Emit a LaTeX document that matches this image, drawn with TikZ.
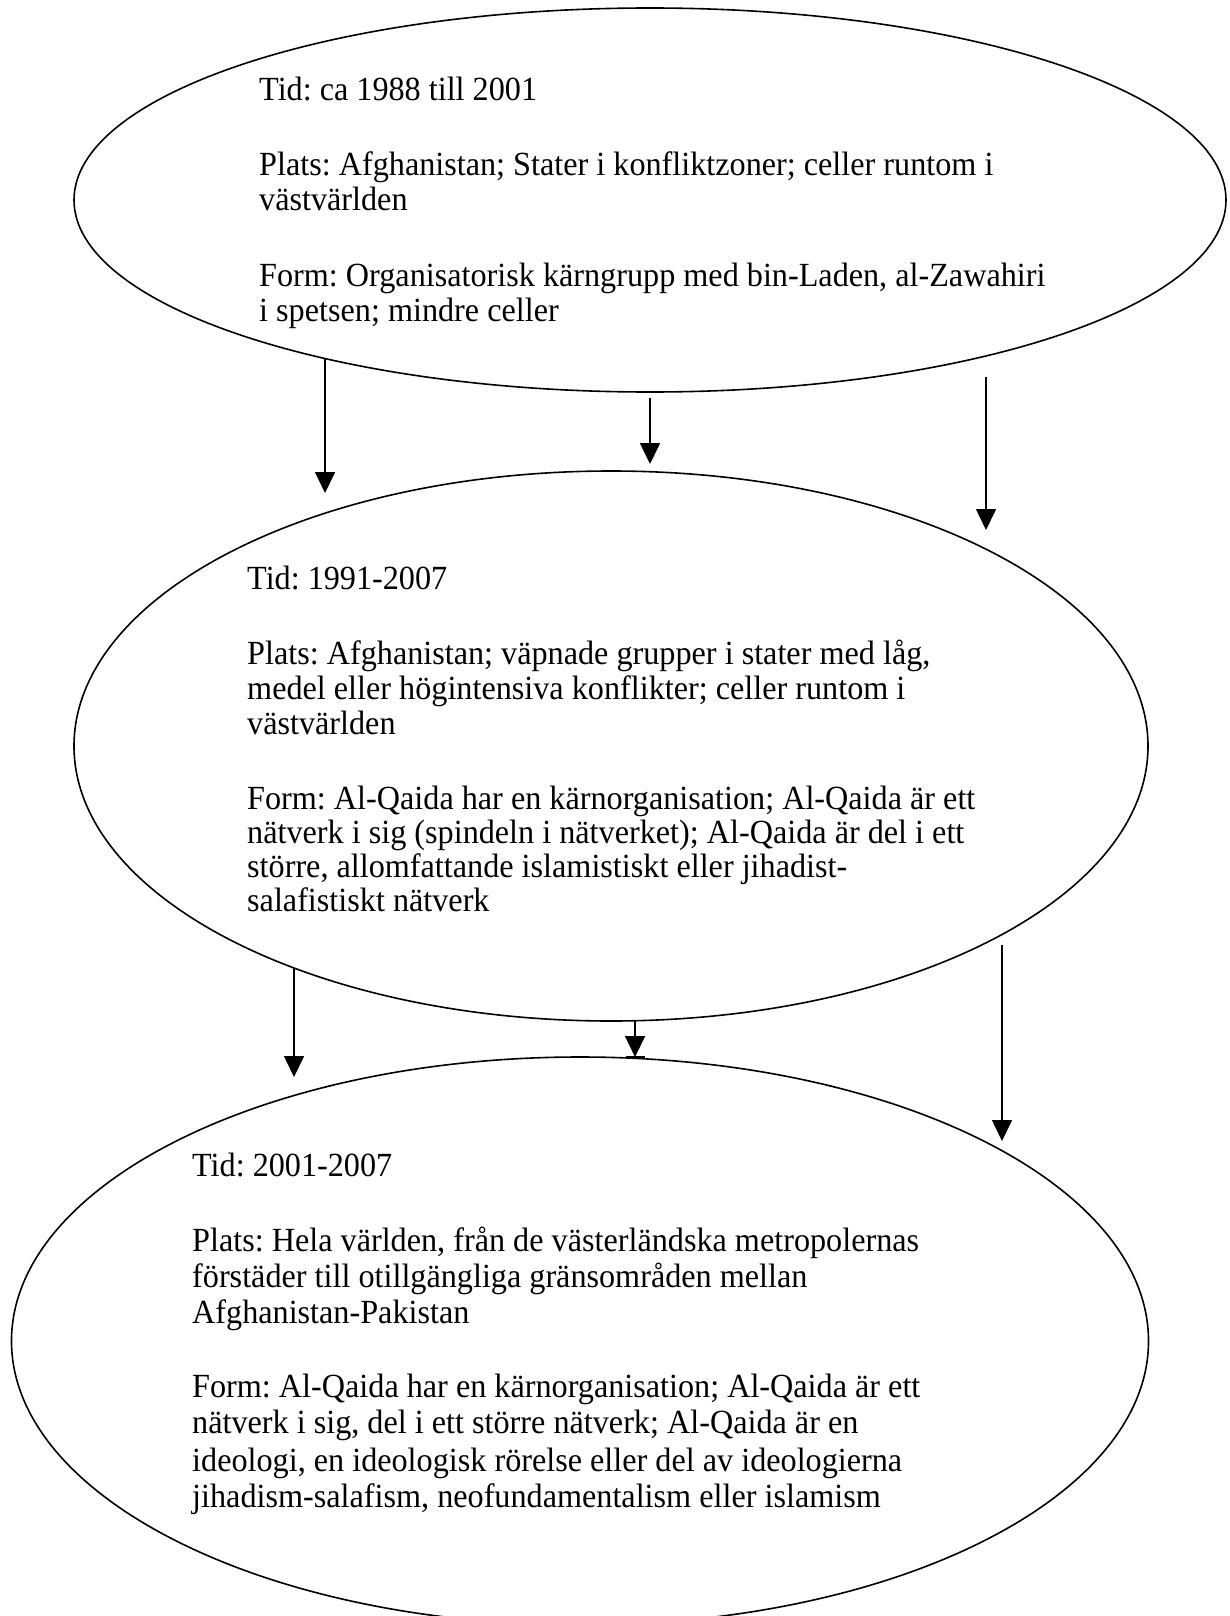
\documentclass[tikz,border=0pt]{standalone}
\usepackage{fontspec}
\usepackage{graphicx}
\setmainfont{Liberation Serif}
\usetikzlibrary{shapes.geometric,arrows.meta}
\frenchspacing
\newcommand{\tall}[1]{\scalebox{1}[1.05]{#1}}
\tikzset{
  ell/.style={ellipse, draw, line width=1.6pt, inner sep=0pt, outer sep=0pt},
  conn/.style={line width=1.6pt, -{Triangle[length=21pt,width=20pt]}},
  txt/.style={anchor=base west, inner sep=0pt, font=\fontsize{32.2}{36}\selectfont},
}
\begin{document}
\begin{tikzpicture}[x=1pt,y=-1pt]
\clip (0,0) rectangle (1229,1616);
\fill[white] (0,0) rectangle (1229,1616);
% ellipses
\node[ell, minimum width=1152pt, minimum height=384pt] (e1) at (650,200) {};
\node[ell, minimum width=1074pt, minimum height=550pt] (e2) at (611,746) {};
\node[ell, minimum width=1137pt, minimum height=568pt] (e3) at (580,1341) {};
% texts ellipse 1
\node[txt] (t1a) at (259,101) {\tall{Tid: ca 1988 till 2001}};
\node[txt] (t1b) at (259,176) {\tall{Plats: Afghanistan; Stater i konfliktzoner; celler runtom i}};
\node[txt] (t1c) at (259,211) {\tall{västvärlden}};
\node[txt] (t1d) at (259,286) {\tall{Form: Organisatorisk kärngrupp med bin-Laden, al-Zawahiri}};
\node[txt] (t1e) at (259,321) {\tall{i spetsen; mindre celler}};
% texts ellipse 2
\node[txt] (t2a) at (247,589) {\tall{Tid: 1991-2007}};
\node[txt] (t2b) at (247,664) {\tall{Plats: Afghanistan; väpnade grupper i stater med låg,}};
\node[txt] (t2c) at (247,699) {\tall{medel eller högintensiva konflikter; celler runtom i}};
\node[txt] (t2d) at (247,734) {\tall{västvärlden}};
\node[txt] (t2e) at (247,809) {\tall{Form: Al-Qaida har en kärnorganisation; Al-Qaida är ett}};
\node[txt] (t2f) at (247,843) {\tall{nätverk i sig (spindeln i nätverket); Al-Qaida är del i ett}};
\node[txt] (t2g) at (247,877) {\tall{större, allomfattande islamistiskt eller jihadist-}};
\node[txt] (t2h) at (247,911) {\tall{salafistiskt nätverk}};
% texts ellipse 3
\node[txt] (t3a) at (192,1176) {\tall{Tid: 2001-2007}};
\node[txt] (t3b) at (192,1251) {\tall{Plats: Hela världen, från de västerländska metropolernas}};
\node[txt] (t3c) at (192,1287) {\tall{förstäder till otillgängliga gränsområden mellan}};
\node[txt] (t3d) at (192,1323) {\tall{Afghanistan-Pakistan}};
\node[txt] (t3e) at (192,1397) {\tall{Form: Al-Qaida har en kärnorganisation; Al-Qaida är ett}};
\node[txt] (t3f) at (192,1433) {\tall{nätverk i sig, del i ett större nätverk; Al-Qaida är en}};
\node[txt] (t3g) at (192,1471) {\tall{ideologi, en ideologisk rörelse eller del av ideologierna}};
\node[txt] (t3h) at (192,1507) {\tall{jihadism-salafism, neofundamentalism eller islamism}};
% arrow coordinates
\coordinate (a1t) at (331,493);
\coordinate (a2t) at (650,464);
\coordinate (a3s) at (986,377);
\coordinate (a3t) at (986,530);
\coordinate (b1t) at (298,1077);
\coordinate (b2t) at (635,1057);
\coordinate (b3s) at (1002,945);
\coordinate (b3t) at (1002,1141);
% arrows e1 -> e2
\draw[conn] (e1.206.6) -- (e1.206.6 |- a1t);
\draw[conn] ([yshift=-6pt]e1.south) -- (a2t);
\draw[conn] (a3s) -- (a3t);
% arrows e2 -> e3
\draw[conn] (e2.215.6) -- (e2.215.6 |- b1t);
\draw[conn] (e2.275) -- (e2.275 |- b2t);
\draw[line width=3pt] ([xshift=-9.5pt]b2t) -- ([xshift=9.5pt]b2t);
\draw[conn] (b3s) -- (b3t);
\end{tikzpicture}
\end{document}
